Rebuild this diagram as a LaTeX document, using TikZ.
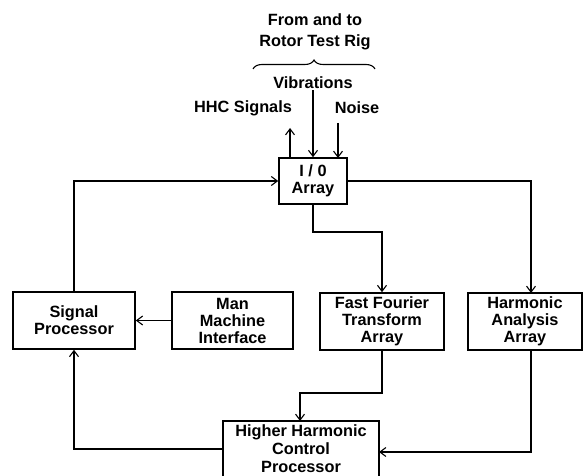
\documentclass[tikz,border=0pt]{standalone}
\usepackage{fontspec}
\setmainfont{Liberation Sans}
\usetikzlibrary{arrows.meta,decorations.pathreplacing}
\begin{document}
\begin{tikzpicture}[x=1pt,y=-1pt,
  blk/.style={draw,line width=1.6pt,align=center,inner sep=0pt,
    font=\fontsize{16.3}{17}\selectfont\bfseries},
  lbl/.style={align=center,inner sep=1pt,font=\fontsize{16.3}{21}\selectfont\bfseries},
  conn/.style={line width=1.1pt,-{Straight Barb[length=6pt,width=9pt,line width=1.1pt]}},
  wire/.style={line width=1.1pt}]
\useasboundingbox (0,0) rectangle (584,476);
\begin{scope}
\clip (0,0) rectangle (584,476);
\node[blk,minimum width=68pt,minimum height=46pt] (io) at (313,181) {I / 0\\Array};
\node[blk,minimum width=122pt,minimum height=57pt] (sp) at (74,320.5) {Signal\\Processor};
\node[blk,minimum width=121pt,minimum height=57pt] (mmi) at (232.5,320.5) {Man\\Machine\\Interface};
\node[blk,minimum width=124pt,minimum height=57pt] (fft) at (382,321.5) {Fast Fourier\\Transform\\Array};
\node[blk,minimum width=114pt,minimum height=57pt] (haa) at (525,321.5) {Harmonic\\Analysis\\Array};
\node[blk,minimum width=156pt,minimum height=70pt] (hhc) at (301,456) {};
\node[align=center,inner sep=0pt,font=\fontsize{16.3}{18}\selectfont\bfseries] (hhctext) at (301,449) {Higher Harmonic\\Control\\Processor};

\node[lbl] (top) at (315,32) {From and to\\Rotor Test Rig};
\node[lbl] (hhcsig) at (243,108) {HHC Signals};
\node[lbl] (vib) at (313,83) {Vibrations};
\node[lbl] (noise) at (357,108) {Noise};

\draw[line width=1.1pt,decorate,decoration={brace,amplitude=9pt}] (253,69) -- (375,69);

% coordinates
\coordinate (hhcup) at (290,128);
\coordinate (hhcbase) at (290,158);
\coordinate (noisetop) at (338,123);
\coordinate (noisebase) at (338,158);
\coordinate (ltop) at (74,181);
\coordinate (iob1) at (313,232);
\coordinate (iob2) at (382,232);
\coordinate (rtop) at (531,181);
\coordinate (haain) at (531,293);
\coordinate (f1) at (382,393);
\coordinate (f2) at (300,393);
\coordinate (hhcin) at (300,421);
\coordinate (haaout) at (531,350);
\coordinate (h1) at (531,452);
\coordinate (hhcright) at (379,452);
\coordinate (hhcleft) at (223,449);
\coordinate (l1) at (74,449);

\draw[conn] (hhcbase) -- (hhcup);
\draw[conn] (vib.south) -- (io.north);
\draw[conn] (noisetop) -- (noisebase);
\draw[conn] (sp.north) -- (ltop) -- (io.west);
\draw[conn] (io.south) -- (iob1) -- (iob2) -- (fft.north);
\draw[conn] (io.east) -- (rtop) -- (haain);
\draw[conn] (fft.south) -- (f1) -- (f2) -- (hhcin);
\draw[conn] (haaout) -- (h1) -- (hhcright);
\draw[conn] (hhcleft) -- (l1) -- (sp.south);
\draw[conn] (mmi.west) -- (sp.east);
\end{scope}
\end{tikzpicture}
\end{document}
